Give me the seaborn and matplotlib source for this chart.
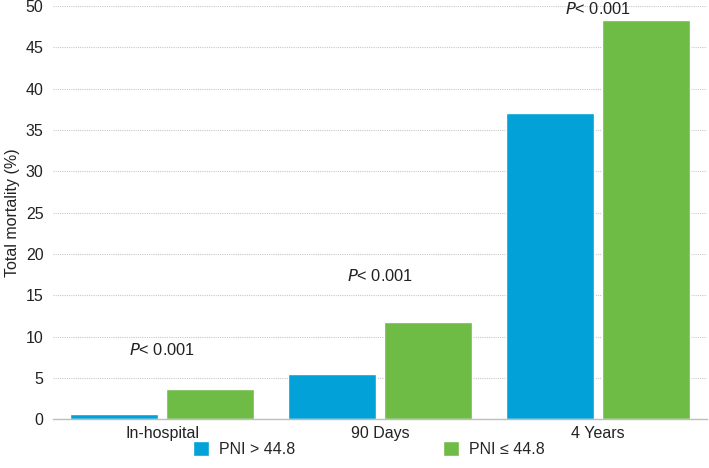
import matplotlib
matplotlib.use('Agg')
import matplotlib.pyplot as plt
import seaborn as sns
import pandas as pd

# ── DATA ──────────────────────────────────────────────
periods    = ['In-hospital', '90 Days', '4 Years']
groups     = ['PNI > 44.8', 'PNI ≤ 44.8']
high_pni   = [0.7, 5.5, 37.1]
low_pni    = [3.7, 11.8, 48.3]
p_labels   = ['P< 0.001', 'P< 0.001', 'P< 0.001']
p_heights  = [8.4, 17.4, 49.6]
colors     = ['#02A1D8', '#6EBB46']

df = pd.DataFrame({
    'period': periods * 2,
    'group':  [groups[0]] * 3 + [groups[1]] * 3,
    'value':  high_pni + low_pni,
})

sns.set_theme(style='white')
plt.rcParams['font.family'] = ['Liberation Sans', 'DejaVu Sans']

fig = plt.figure(figsize=(7.09, 4.68), dpi=100)
ax = fig.add_axes([0.075, 0.104, 0.922, 0.883])

sns.barplot(
    data=df, x='period', y='value', hue='group',
    order=periods, hue_order=groups, palette=colors,
    width=0.88, gap=0.08, saturation=1, ax=ax
)

ax.set_ylim(0, 50)
ax.set_xlim(-0.5, 2.5)
ax.set_yticks(range(0, 51, 5))
ax.yaxis.grid(True, linestyle=(0, (1, 1)), color='#c8c8c8', linewidth=0.8)
ax.set_axisbelow(True)
for s in ['left', 'right', 'top']:
    ax.spines[s].set_visible(False)
ax.spines['bottom'].set_color('#bdbdbd')
ax.spines['bottom'].set_linewidth(1.0)
ax.tick_params(axis='both', length=0, labelsize=11.5, colors='#222222')
ax.tick_params(axis='y', pad=7)
ax.tick_params(axis='x', pad=5)
ax.set_xlabel('')
ax.set_ylabel('Total mortality (%)', fontsize=11.5, color='#222222', labelpad=4)

# p-value labels above each group
for i, (lab, h) in enumerate(zip(p_labels, p_heights)):
    ax.text(i, h, r'$\mathit{P}$' + lab[1:], ha='center', va='center',
            fontsize=11.8, color='#222222', clip_on=False)

handles, labels = ax.get_legend_handles_labels()
ax.legend(
    handles, labels, loc='center', bbox_to_anchor=(0.483, -0.072),
    ncol=2, frameon=False, fontsize=11.5, handlelength=1.0, handleheight=1.0,
    handletextpad=0.63, columnspacing=9.3, borderaxespad=0
)

fig.savefig('out.png', dpi=100)
